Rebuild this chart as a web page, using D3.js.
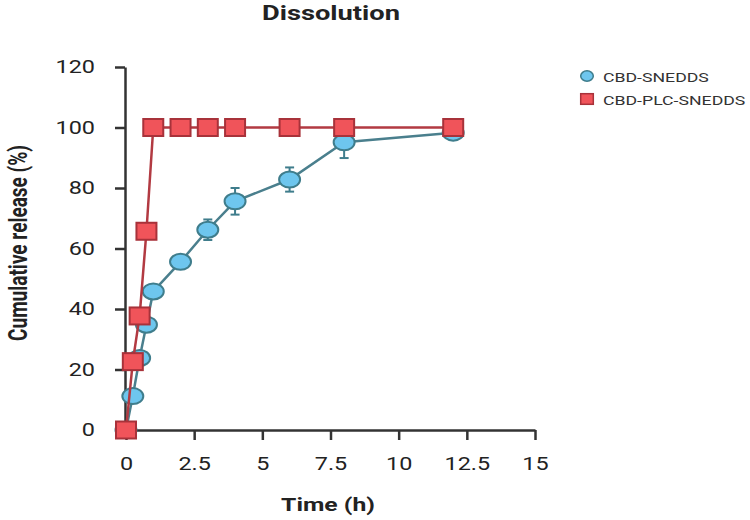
<!DOCTYPE html>
<html>
<head>
<meta charset="utf-8">
<script src="https://cdn.jsdelivr.net/npm/d3@7"></script>
<style>
  body { margin: 0; background: #fff; }
  svg text { font-family: Roboto, "Noto Sans", sans-serif; }
</style>
</head>
<body>
<svg id="chart" width="750" height="520"></svg>
<script>
// values
var times = [0, 0.25, 0.5, 0.75, 1, 2, 3, 4, 6, 8, 12];
var sneddsRelease = [0, 11.2, 23.8, 34.8, 45.8, 55.6, 66.2, 75.6, 82.8, 95.1, 98.3];
var sneddsError = [0, 0, 0, 0, 0, 0, 3.4, 4.4, 4.0, 5.2, 1.0];
var plcRelease = [0, 22.6, 37.7, 65.7, 100, 100, 100, 100, 100, 100, 100];
var xTicks = [0, 2.5, 5, 7.5, 10, 12.5, 15];
var yTicks = [0, 20, 40, 60, 80, 100, 120];
var seriesNames = ["CBD-SNEDDS", "CBD-PLC-SNEDDS"];

var svg = d3.select("#chart");

// the reference text is drawn a bit wide
var stretch = 1.3;

var x = d3.scaleLinear().domain([0, 15]).range([126, 535]),
    y = d3.scaleLinear().domain([0, 120]).range([430, 67]);

var blueFill = "#6ec6ee", blueStroke = "#3f7d8c", blueLine = "#4a7f8d",
    redFill = "#f0545a", redStroke = "#a8323a", redLine = "#b23a42";

// axes
var xAxis = svg.append("g")
  .attr("transform", "translate(0," + y(0) + ")")
  .call(d3.axisBottom(x).tickValues(xTicks).tickFormat(d3.format("~g"))
    .tickSize(10).tickSizeOuter(0).tickPadding(17));

var yAxis = svg.append("g")
  .attr("transform", "translate(" + (x(0) - 1) + ",0)")
  .call(d3.axisLeft(y).tickValues(yTicks)
    .tickSize(10).tickSizeOuter(0));

[xAxis, yAxis].forEach(function(a) {
  a.select(".domain").attr("stroke", "#333").attr("stroke-width", 2.5);
  a.selectAll(".tick line").attr("stroke", "#333").attr("stroke-width", 2.5);
  a.selectAll(".tick text").attr("fill", "#222").style("font-size", "18px")
    .attr("transform", "scale(" + stretch + ",1)");
});
yAxis.selectAll(".tick text").attr("x", -30 / stretch);

// titles
svg.append("text")
  .attr("transform", "translate(331,20) scale(" + stretch + ",1)")
  .attr("text-anchor", "middle")
  .style("font-size", "21px").style("font-weight", "bold").attr("fill", "#222")
  .text("Dissolution");

svg.append("text")
  .attr("transform", "translate(328,511) scale(" + stretch + ",1)")
  .attr("text-anchor", "middle")
  .style("font-size", "19px").style("font-weight", "bold").attr("fill", "#222")
  .text("Time (h)");

svg.append("text")
  .attr("transform", "translate(27,243) rotate(-90) scale(1,1.4)")
  .attr("text-anchor", "middle")
  .style("font-size", "19px").style("font-weight", "bold").attr("fill", "#222")
  .text("Cumulative release (%)");

// series data
var snedds = times.map(function(t, i) { return { t: t, v: sneddsRelease[i], e: sneddsError[i] }; });
var plc = times.map(function(t, i) { return { t: t, v: plcRelease[i] }; });

var line = d3.line()
  .x(function(d) { return x(d.t); })
  .y(function(d) { return y(d.v); });

// CBD-SNEDDS
svg.append("path")
  .datum(snedds)
  .attr("fill", "none")
  .attr("stroke", blueLine)
  .attr("stroke-width", 2.5)
  .attr("d", line);

var errs = svg.append("g").selectAll("g")
  .data(snedds.filter(function(d) { return d.e > 0; }))
  .enter().append("g")
    .attr("stroke", blueStroke)
    .attr("stroke-width", 2);

errs.append("line")
  .attr("x1", function(d) { return x(d.t); })
  .attr("x2", function(d) { return x(d.t); })
  .attr("y1", function(d) { return y(d.v - d.e); })
  .attr("y2", function(d) { return y(d.v + d.e); });
errs.append("line")
  .attr("x1", function(d) { return x(d.t) - 4.5; })
  .attr("x2", function(d) { return x(d.t) + 4.5; })
  .attr("y1", function(d) { return y(d.v - d.e); })
  .attr("y2", function(d) { return y(d.v - d.e); });
errs.append("line")
  .attr("x1", function(d) { return x(d.t) - 4.5; })
  .attr("x2", function(d) { return x(d.t) + 4.5; })
  .attr("y1", function(d) { return y(d.v + d.e); })
  .attr("y2", function(d) { return y(d.v + d.e); });

svg.append("g").selectAll("ellipse")
  .data(snedds)
  .enter().append("ellipse")
    .attr("cx", function(d) { return x(d.t); })
    .attr("cy", function(d) { return y(d.v); })
    .attr("rx", 10.5)
    .attr("ry", 8)
    .attr("fill", blueFill)
    .attr("stroke", blueStroke)
    .attr("stroke-width", 2);

// CBD-PLC-SNEDDS
svg.append("path")
  .datum(plc)
  .attr("fill", "none")
  .attr("stroke", redLine)
  .attr("stroke-width", 2.5)
  .attr("d", line);

svg.append("g").selectAll("rect")
  .data(plc)
  .enter().append("rect")
    .attr("x", function(d) { return x(d.t) - 10; })
    .attr("y", function(d) { return y(d.v) - 8.5; })
    .attr("width", 20)
    .attr("height", 17)
    .attr("fill", redFill)
    .attr("stroke", redStroke)
    .attr("stroke-width", 2);

// legend
var legend = svg.append("g").attr("transform", "translate(587,76)");
var items = legend.selectAll("g")
  .data(seriesNames)
  .enter().append("g")
    .attr("transform", function(d, i) { return "translate(0," + i * 23 + ")"; });

items.filter(function(d, i) { return i === 0; })
  .append("ellipse")
    .attr("rx", 6.3).attr("ry", 5.2)
    .attr("fill", blueFill).attr("stroke", blueStroke).attr("stroke-width", 1.5);
items.filter(function(d, i) { return i === 1; })
  .append("rect")
    .attr("x", -6.3).attr("y", -5.3).attr("width", 12.6).attr("height", 10.6)
    .attr("fill", redFill).attr("stroke", redStroke).attr("stroke-width", 1.5);

items.append("text")
  .attr("transform", "translate(16,6) scale(" + stretch + ",1)")
  .style("font-size", "13.6px").attr("fill", "#333")
  .text(function(d) { return d; });
</script>
</body>
</html>
